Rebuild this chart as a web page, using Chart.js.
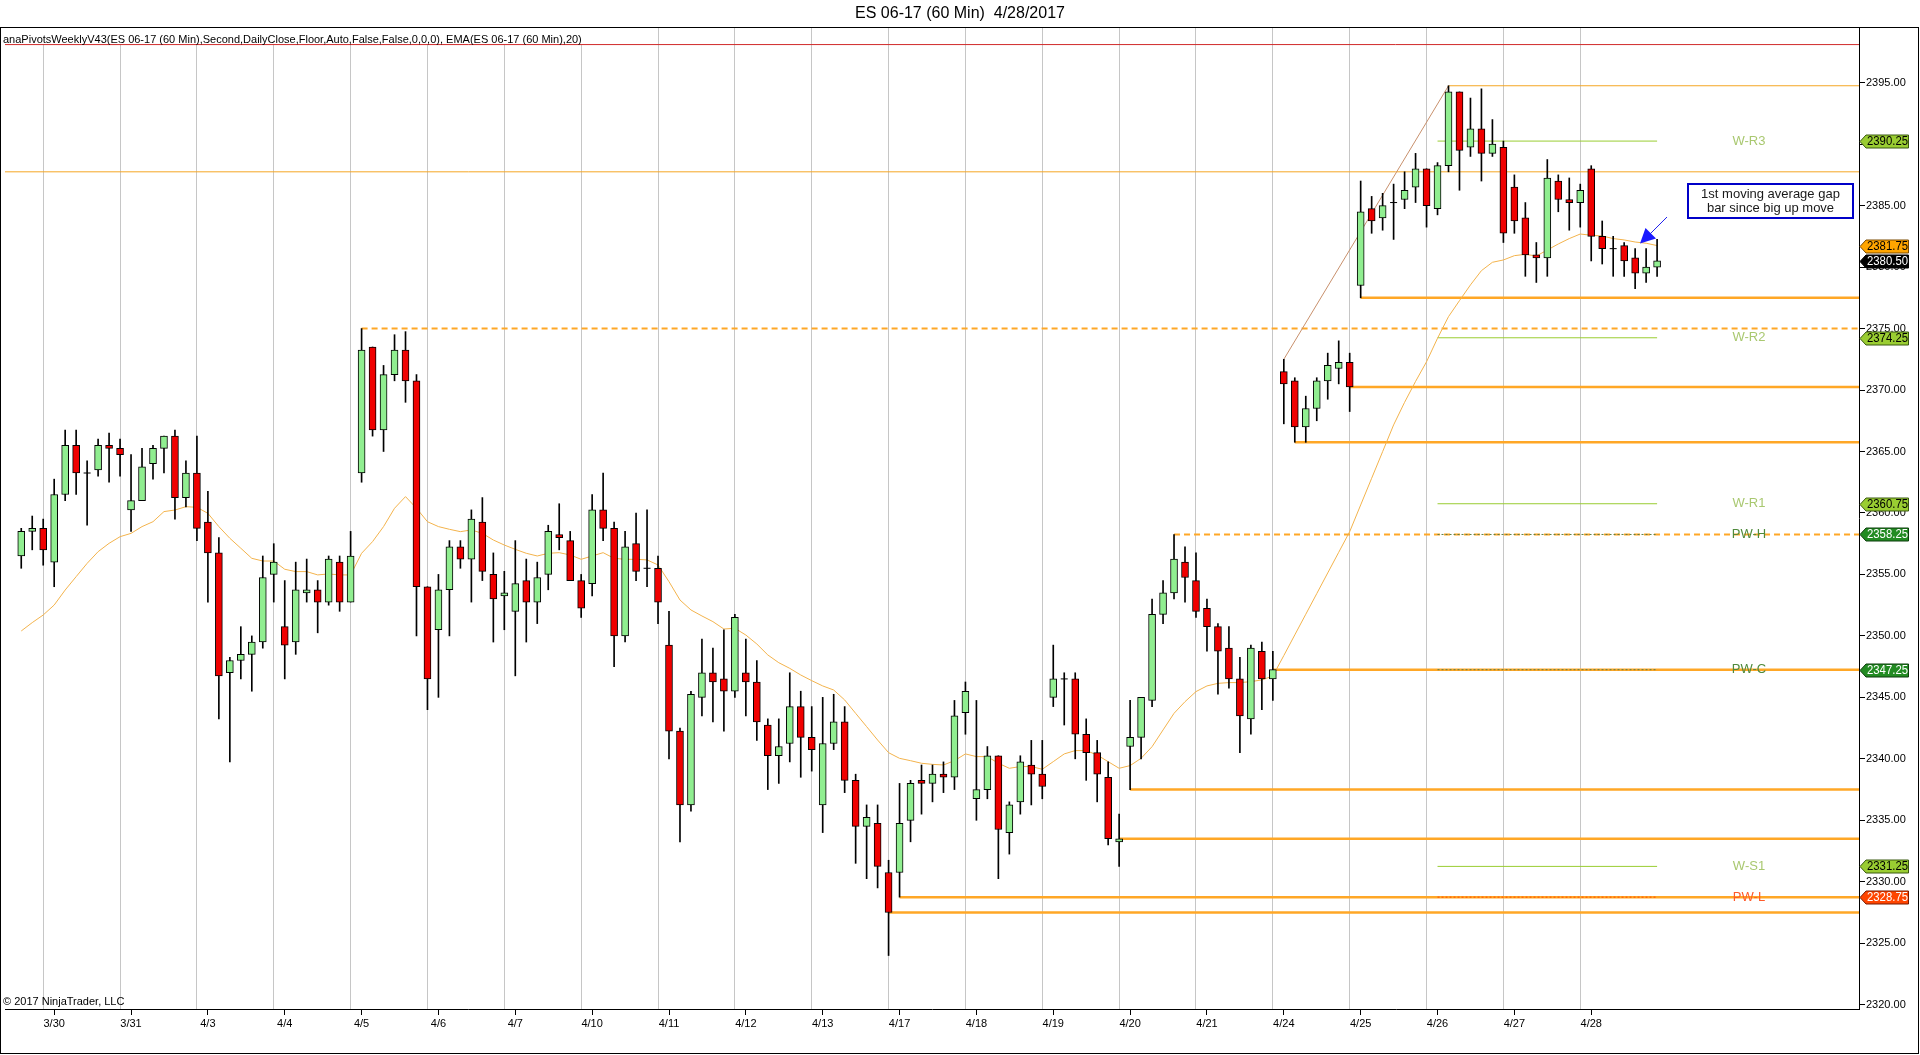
<!DOCTYPE html>
<html>
<head>
<meta charset="utf-8">
<title>ES 06-17 (60 Min) 4/28/2017</title>
<script src="https://cdn.jsdelivr.net/npm/chart.js@4.4.1/dist/chart.umd.min.js"></script>
<style>
  html, body { margin: 0; padding: 0; background: #fff; }
  #wrap { position: relative; width: 1920px; height: 1055px; overflow: hidden; }
  #chart { position: absolute; left: 0; top: 0; }
  #title { position: absolute; left: 0; top: 4px; width: 1920px; text-align: center;
           font: 16px 'Liberation Sans', Arial, sans-serif; color: #000; z-index: 2; }
</style>
</head>
<body>
<div id="wrap">
  <canvas id="chart" width="1920" height="1055"></canvas>
  <div id="title">ES 06-17 (60 Min)&nbsp; 4/28/2017</div>
</div>
<script>
// ES 06-17 hourly bars, 3/29 close to 4/28 midday

const dayLabels = ['3/30', '3/31', '4/3', '4/4', '4/5', '4/6', '4/7', '4/10', '4/11', '4/12', '4/13',
                   '4/17', '4/18', '4/19', '4/20', '4/21', '4/24', '4/25', '4/26', '4/27', '4/28'];
const yTickValues = [2320, 2325, 2330, 2335, 2340, 2345, 2350, 2355, 2360, 2365, 2370, 2375, 2380, 2385, 2390, 2395];

const opens = [
  2356.5, 2358.5, 2358.75, 2356.0, 2361.5, 2365.5, 2363.25, 2363.5, 2365.5, 2365.25, 2360.25, 2361.0,
  2364.0, 2365.25, 2366.25, 2361.25, 2363.25, 2359.25, 2356.75, 2347.0, 2348.0, 2348.5, 2349.5, 2355.0,
  2350.75, 2349.5, 2353.5, 2353.75, 2352.75, 2356.0, 2352.75, 2363.25, 2373.5, 2366.75, 2371.25, 2373.25,
  2370.75, 2354.0, 2350.5, 2353.75, 2357.25, 2356.25, 2359.25, 2355.0, 2353.25, 2352.0, 2354.5, 2352.75,
  2355.0, 2358.25, 2357.75, 2354.5, 2354.25, 2360.25, 2358.75, 2350.0, 2357.5, 2355.5, 2355.5, 2349.25,
  2342.25, 2336.25, 2345.0, 2347.0, 2346.5, 2345.5, 2347.0, 2346.25, 2342.75, 2340.25, 2341.25, 2344.25,
  2341.75, 2336.25, 2341.25, 2343.0, 2338.25, 2334.5, 2334.75, 2330.75, 2330.75, 2335.0, 2338.25, 2338.0,
  2338.75, 2338.5, 2343.75, 2336.75, 2337.5, 2340.25, 2334.0, 2336.5, 2339.5, 2338.75, 2345.0, 2346.5,
  2346.5, 2342.0, 2340.5, 2338.5, 2333.25, 2341.0, 2341.75, 2344.75, 2351.75, 2353.5, 2356.0, 2354.5,
  2352.25, 2350.75, 2349.0, 2346.5, 2343.25, 2348.75, 2346.5, 2371.5, 2370.75, 2367.0, 2368.5, 2370.75,
  2371.75, 2372.25, 2378.5, 2384.75, 2384.0, 2385.25, 2385.5, 2386.5, 2388.0, 2384.75, 2388.25, 2394.25,
  2389.75, 2391.25, 2389.25, 2389.75, 2386.5, 2384.0, 2381.0, 2380.75, 2387.0, 2385.5, 2385.25, 2388.0,
  2382.5, 2381.5, 2381.75, 2380.75, 2379.5, 2380.0
];
const highs = [
  2358.75, 2359.75, 2359.5, 2362.75, 2366.75, 2366.75, 2364.25, 2366.0, 2366.5, 2366.0, 2364.75, 2365.25,
  2365.5, 2366.25, 2366.75, 2364.25, 2366.25, 2361.75, 2358.0, 2348.25, 2350.75, 2350.0, 2356.5, 2357.5,
  2354.5, 2356.0, 2356.25, 2354.5, 2356.5, 2356.5, 2358.5, 2375.0, 2373.5, 2372.0, 2374.5, 2374.75,
  2371.25, 2354.0, 2355.0, 2357.75, 2357.75, 2360.25, 2361.25, 2356.75, 2355.25, 2357.75, 2356.25, 2356.0,
  2359.0, 2360.75, 2358.5, 2355.0, 2361.5, 2363.25, 2359.25, 2358.5, 2360.0, 2360.25, 2356.5, 2352.0,
  2342.5, 2345.5, 2349.75, 2349.0, 2350.5, 2351.75, 2349.75, 2348.0, 2343.25, 2343.25, 2347.0, 2345.5,
  2344.25, 2345.0, 2345.25, 2344.25, 2338.75, 2336.25, 2336.25, 2331.75, 2338.0, 2338.25, 2339.5, 2339.5,
  2339.75, 2344.75, 2346.25, 2344.75, 2341.0, 2340.25, 2336.5, 2340.25, 2341.5, 2341.5, 2349.25, 2347.0,
  2347.0, 2343.25, 2341.5, 2339.75, 2335.5, 2344.75, 2345.0, 2353.0, 2354.5, 2358.25, 2357.25, 2356.75,
  2353.0, 2351.0, 2350.75, 2348.25, 2349.25, 2349.5, 2348.75, 2372.5, 2371.0, 2369.5, 2371.0, 2373.0,
  2374.0, 2373.0, 2387.0, 2385.75, 2386.0, 2386.75, 2387.75, 2389.25, 2388.0, 2388.5, 2394.75, 2394.25,
  2393.75, 2394.5, 2392.0, 2390.25, 2387.5, 2385.25, 2382.0, 2388.75, 2387.5, 2387.25, 2386.75, 2388.25,
  2383.75, 2382.5, 2382.0, 2381.5, 2381.5, 2382.25
];
const lows = [
  2355.5, 2357.0, 2355.75, 2354.0, 2361.0, 2361.5, 2359.0, 2363.0, 2362.5, 2363.0, 2358.5, 2361.0,
  2362.75, 2363.25, 2359.5, 2360.5, 2357.75, 2352.75, 2343.25, 2339.75, 2346.5, 2345.5, 2349.0, 2352.75,
  2346.5, 2348.5, 2352.75, 2350.25, 2352.5, 2352.0, 2352.75, 2362.5, 2366.25, 2365.0, 2370.75, 2369.0,
  2350.0, 2344.0, 2345.0, 2350.0, 2355.5, 2352.75, 2354.5, 2349.5, 2350.5, 2346.75, 2349.5, 2351.0,
  2353.75, 2357.0, 2354.5, 2351.5, 2353.25, 2357.75, 2347.5, 2349.5, 2354.5, 2354.0, 2351.0, 2340.0,
  2333.25, 2335.75, 2343.5, 2343.0, 2342.25, 2345.0, 2343.5, 2341.5, 2337.5, 2338.0, 2339.75, 2338.5,
  2339.0, 2334.0, 2340.75, 2337.25, 2331.5, 2330.25, 2329.5, 2324.0, 2328.75, 2333.25, 2335.5, 2336.5,
  2337.25, 2337.5, 2342.0, 2335.0, 2336.75, 2330.25, 2332.25, 2335.5, 2336.25, 2336.75, 2344.25, 2342.75,
  2340.0, 2338.25, 2336.5, 2333.0, 2331.25, 2337.5, 2340.0, 2344.25, 2351.0, 2353.0, 2352.75, 2351.5,
  2348.75, 2345.25, 2345.75, 2340.5, 2342.0, 2344.0, 2344.75, 2367.25, 2365.75, 2365.75, 2367.5, 2369.25,
  2370.5, 2368.25, 2377.5, 2382.75, 2383.0, 2382.25, 2384.75, 2385.25, 2383.25, 2384.25, 2387.75, 2386.25,
  2389.0, 2387.0, 2389.0, 2382.0, 2382.75, 2379.25, 2378.75, 2379.25, 2384.5, 2383.0, 2383.25, 2380.5,
  2380.25, 2379.25, 2379.25, 2378.25, 2378.75, 2379.25
];
const closes = [
  2358.5, 2358.75, 2357.0, 2361.5, 2365.5, 2363.25, 2363.25, 2365.5, 2365.25, 2364.75, 2361.0, 2363.75,
  2365.25, 2366.25, 2361.25, 2363.25, 2358.75, 2356.75, 2346.75, 2348.0, 2348.5, 2349.5, 2354.75, 2356.0,
  2349.25, 2353.75, 2353.75, 2352.75, 2356.25, 2352.75, 2356.5, 2373.25, 2366.75, 2371.25, 2373.25, 2370.75,
  2354.0, 2346.5, 2353.75, 2357.25, 2356.25, 2359.5, 2355.25, 2353.0, 2353.5, 2354.25, 2352.75, 2354.75,
  2358.5, 2358.0, 2354.5, 2352.25, 2360.25, 2358.75, 2350.0, 2357.25, 2355.25, 2355.5, 2352.75, 2342.25,
  2336.25, 2345.25, 2347.0, 2346.25, 2345.5, 2351.5, 2346.25, 2343.0, 2340.25, 2341.0, 2344.25, 2341.75,
  2340.75, 2341.25, 2343.0, 2338.25, 2334.5, 2335.25, 2331.25, 2327.5, 2334.75, 2338.0, 2338.0, 2338.75,
  2338.5, 2343.5, 2345.5, 2337.5, 2340.25, 2334.25, 2336.25, 2339.75, 2338.75, 2337.75, 2346.5, 2346.5,
  2342.0, 2340.5, 2338.75, 2333.5, 2333.5, 2341.75, 2345.0, 2351.75, 2353.5, 2356.25, 2354.75, 2352.0,
  2350.75, 2348.75, 2346.5, 2343.5, 2349.0, 2346.5, 2347.25, 2370.5, 2367.0, 2368.5, 2370.75, 2372.0,
  2372.25, 2370.25, 2384.5, 2383.75, 2385.0, 2385.25, 2386.25, 2388.0, 2385.0, 2388.25, 2394.25, 2389.5,
  2391.25, 2389.25, 2390.0, 2382.75, 2383.75, 2381.0, 2380.75, 2387.25, 2385.5, 2385.25, 2386.25, 2382.5,
  2381.5, 2381.5, 2380.5, 2379.5, 2380.0, 2380.5
];
const ema20 = [
  2350.4, 2351.08, 2351.7, 2352.51, 2353.73, 2354.82, 2355.9, 2356.85, 2357.53, 2358.07, 2358.34, 2358.89,
  2359.29, 2360.11, 2360.24, 2360.51, 2360.46, 2359.97, 2358.89, 2357.94, 2357.13, 2356.31, 2356.09, 2356.09,
  2355.42, 2355.23, 2355.23, 2354.96, 2355.04, 2354.96, 2354.96, 2356.72, 2357.67, 2358.89, 2360.38, 2361.33,
  2360.38, 2359.29, 2358.89, 2358.67, 2358.48, 2358.62, 2358.34, 2357.8, 2357.39, 2357.04, 2356.72, 2356.5,
  2356.72, 2356.77, 2356.58, 2356.23, 2356.5, 2356.77, 2356.31, 2356.23, 2356.23, 2356.18, 2355.77, 2354.41,
  2352.92, 2352.11, 2351.62, 2351.16, 2350.56, 2350.62, 2350.07, 2349.34, 2348.45, 2347.82, 2347.36, 2346.82,
  2346.36, 2345.93, 2345.6, 2344.79, 2343.7, 2342.62, 2341.53, 2340.5, 2340.04, 2339.85, 2339.64, 2339.55,
  2339.5, 2339.85, 2340.4, 2340.18, 2340.18, 2339.64, 2339.23, 2339.37, 2339.37, 2339.15, 2339.77, 2340.4,
  2340.67, 2340.67, 2340.31, 2339.77, 2339.23, 2339.45, 2340.04, 2340.99, 2342.35, 2343.7, 2344.65, 2345.47,
  2345.93, 2346.14, 2346.2, 2346.2, 2346.28, 2346.42, 2346.74, 2348.4, 2350.08, 2351.76, 2353.44, 2355.12,
  2356.8, 2358.48, 2360.65, 2362.82, 2364.99, 2367.16, 2369.0, 2370.7, 2372.3, 2374.21, 2375.97, 2377.27,
  2378.55, 2379.71, 2380.39, 2380.58, 2380.93, 2381.04, 2380.9, 2381.39, 2381.88, 2382.32, 2382.69, 2382.59,
  2382.53, 2382.32, 2382.21, 2382.04, 2381.94, 2381.75
];

// horizontal rays drawn on the chart (price, first bar; null = whole width)
const levelPrices = [2398.1, 2387.75, 2394.75, 2377.5, 2375.0, 2370.25, 2365.75, 2358.25, 2347.25, 2337.5, 2333.5, 2328.75, 2327.5];
const levelStartBars = [null, null, 130, 122, 31, 121, 116, 105, 114, 101, 100, 80, 79];
const levelKinds = ['limit', 'thin', 'thin', 'thick', 'dashed', 'thick', 'thick', 'dashed', 'thick', 'thick', 'thick', 'thick', 'thick'];

// weekly pivots
const pivotNames = ['W-R3', 'W-R2', 'W-R1', 'PW-H', 'PW-C', 'W-S1', 'PW-L'];
const pivotPrices = [2390.25, 2374.25, 2360.75, 2358.25, 2347.25, 2331.25, 2328.75];
const pivotBars = [129, 149];

// trend line high to high
const trendBars = [115, 130];
const trendPrices = [2372.5, 2394.75];

// price markers on the right axis
const tagPrices = [2390.25, 2381.75, 2380.5, 2374.25, 2360.75, 2358.25, 2347.25, 2331.25, 2328.75];
const tagKinds = ['pivot', 'ema', 'last', 'pivot', 'pivot', 'prev', 'prev', 'pivot', 'low'];

const FONT = "'Liberation Sans', Arial, sans-serif";
const barsPerDay = 7;
const firstDayLine = 2;          // bar sitting on the 3/29 | 3/30 separator
const xMin = -1.48, xMax = 167.39;
const yMin = 2319.65, yMax = 2399.53;

const upColor = '#90ee90';
const downColor = '#f00000';
const levelStyles = {
  limit:  { color: '#d02a2a', width: 1,   dash: [] },
  thin:   { color: '#f5a623', width: 1,   dash: [] },
  thick:  { color: '#ffa726', width: 2.5, dash: [] },
  dashed: { color: '#ffa726', width: 2,   dash: [6, 4] }
};
const pivotLineStyles = {
  'W-R3': { color: '#9acd32', dash: [] },
  'W-R2': { color: '#9acd32', dash: [] },
  'W-R1': { color: '#9acd32', dash: [] },
  'PW-H': { color: '#5d7d45', dash: [2, 2] },
  'PW-C': { color: '#5d7d45', dash: [2, 2] },
  'W-S1': { color: '#9acd32', dash: [] },
  'PW-L': { color: '#ff4500', dash: [2, 2] }
};
const pivotTextColors = {
  'W-R3': '#a9c870', 'W-R2': '#a9c870', 'W-R1': '#a9c870',
  'PW-H': '#4f8a3c', 'PW-C': '#4f8a3c', 'W-S1': '#a9c870', 'PW-L': '#ff5a2a'
};
const tagStyles = {
  pivot: { bg: '#9acd32', fg: '#000', edge: '#3a5a10' },
  ema:   { bg: '#ffa500', fg: '#000', edge: '#7a4a00' },
  last:  { bg: '#000000', fg: '#fff', edge: '#000' },
  prev:  { bg: '#228b22', fg: '#fff', edge: '#0b3d0b' },
  low:   { bg: '#ff4500', fg: '#fff', edge: '#7a1a00' }
};

Chart.defaults.font.family = FONT;

// build datasets
const barIdx = opens.map((_, i) => i);
const wickData = barIdx.map(i => ({ x: i, y: [lows[i], highs[i]] }));
const bodyIdx = barIdx.filter(i => opens[i] !== closes[i]);
const bodyData = bodyIdx.map(i => ({ x: i, y: [Math.min(opens[i], closes[i]), Math.max(opens[i], closes[i])] }));
const bodyColors = bodyIdx.map(i => closes[i] > opens[i] ? upColor : downColor);
const dojiData = barIdx.filter(i => opens[i] === closes[i]).map(i => ({ x: i, y: closes[i] }));
const emaData = barIdx.map(i => ({ x: i, y: ema20[i] }));

const datasets = [];

levelPrices.forEach((p, j) => {
  const st = levelStyles[levelKinds[j]];
  const start = levelStartBars[j] === null ? xMin : levelStartBars[j];
  datasets.push({
    type: 'line', data: [{ x: start, y: p }, { x: xMax, y: p }],
    borderColor: st.color, borderWidth: st.width, borderDash: st.dash,
    pointRadius: 0, order: 10, xAxisID: 'x', yAxisID: 'y'
  });
});

pivotNames.forEach((n, j) => {
  const st = pivotLineStyles[n];
  datasets.push({
    type: 'line', data: [{ x: pivotBars[0], y: pivotPrices[j] }, { x: pivotBars[1], y: pivotPrices[j] }],
    borderColor: st.color, borderWidth: 1, borderDash: st.dash,
    pointRadius: 0, order: 9, xAxisID: 'x', yAxisID: 'y'
  });
});

datasets.push({
  type: 'line', data: trendBars.map((b, j) => ({ x: b, y: trendPrices[j] })),
  borderColor: '#c8906c', borderWidth: 1, pointRadius: 0, order: 8, xAxisID: 'x', yAxisID: 'y'
});

datasets.push({
  type: 'line', data: emaData, borderColor: '#f3b34c', borderWidth: 1,
  pointRadius: 0, tension: 0, order: 7, xAxisID: 'x', yAxisID: 'y'
});

datasets.push({
  type: 'bar', data: wickData, backgroundColor: '#000', borderWidth: 0,
  barThickness: 1, grouped: false, order: 3, xAxisID: 'x', yAxisID: 'y'
});

datasets.push({
  type: 'bar', data: bodyData, backgroundColor: bodyColors, borderColor: '#000',
  borderWidth: 1, borderSkipped: false, barThickness: 7, grouped: false, order: 2,
  xAxisID: 'x', yAxisID: 'y'
});

datasets.push({
  type: 'line', data: dojiData, showLine: false, pointStyle: 'line', pointRadius: 3.5,
  borderColor: '#000', borderWidth: 1, order: 1, xAxisID: 'x', yAxisID: 'y'
});

const indicatorText = 'anaPivotsWeeklyV43(ES 06-17 (60 Min),Second,DailyClose,Floor,Auto,False,False,0,0,0), EMA(ES 06-17 (60 Min),20)';

// frame, texts, pivot labels, axis markers, note
const overlay = {
  id: 'overlay',
  afterDraw(chart) {
    const ctx = chart.ctx;
    const ys = chart.scales.y;
    ctx.save();

    // label strip of the indicator hides the day lines underneath it
    ctx.fillStyle = '#fff';
    ctx.fillRect(1, 28, 584, 16);
    ctx.fillStyle = '#000';
    ctx.textBaseline = 'middle';
    ctx.textAlign = 'left';
    ctx.font = '11px ' + FONT;
    ctx.fillText(indicatorText, 3, 39.5, 580);
    ctx.fillText('\u00a9 2017 NinjaTrader, LLC', 3, 1002);

    ctx.strokeStyle = '#000';
    ctx.lineWidth = 1;
    ctx.strokeRect(0.5, 27.5, 1918, 1026);

    // pivot names
    ctx.textAlign = 'center';
    ctx.font = '13px ' + FONT;
    pivotNames.forEach((n, j) => {
      ctx.fillStyle = pivotTextColors[n];
      ctx.fillText(n, 1749, ys.getPixelForValue(pivotPrices[j]));
    });

    // price markers
    ctx.font = '12px ' + FONT;
    tagPrices.forEach((p, j) => {
      const st = tagStyles[tagKinds[j]];
      const y = Math.round(ys.getPixelForValue(p)) + 0.5;
      ctx.beginPath();
      ctx.moveTo(1860, y);
      ctx.lineTo(1866, y - 6.5);
      ctx.lineTo(1908.5, y - 6.5);
      ctx.lineTo(1908.5, y + 6.5);
      ctx.lineTo(1866, y + 6.5);
      ctx.closePath();
      ctx.fillStyle = st.bg;
      ctx.fill();
      ctx.strokeStyle = st.edge;
      ctx.stroke();
      ctx.fillStyle = st.fg;
      ctx.fillText(p.toFixed(2), 1887.5, y + 0.5, 41);
    });

    // note box with arrow
    ctx.fillStyle = '#fff';
    ctx.fillRect(1688, 184, 165, 34);
    ctx.strokeStyle = '#0000c8';
    ctx.lineWidth = 2;
    ctx.strokeRect(1688, 184, 165, 34);
    ctx.fillStyle = '#1a1a1a';
    ctx.font = '13px ' + FONT;
    ctx.fillText('1st moving average gap', 1770.5, 194.5);
    ctx.fillText('bar since big up move', 1770.5, 208.5);

    ctx.strokeStyle = '#2222ee';
    ctx.lineWidth = 1;
    ctx.beginPath();
    ctx.moveTo(1667, 217);
    ctx.lineTo(1649, 235);
    ctx.stroke();
    ctx.fillStyle = '#1a1aff';
    ctx.beginPath();
    ctx.moveTo(1640, 243.5);
    ctx.lineTo(1645.5, 228);
    ctx.lineTo(1656, 238.5);
    ctx.closePath();
    ctx.fill();

    ctx.restore();
  }
};

new Chart(document.getElementById('chart'), {
  type: 'bar',
  data: { datasets: datasets },
  options: {
    responsive: false,
    animation: false,
    devicePixelRatio: 1,
    layout: { padding: { left: 1, right: 0, top: 27, bottom: 0 } },
    plugins: { legend: { display: false }, tooltip: { enabled: false }, title: { display: false } },
    scales: {
      x: {
        type: 'linear', position: 'bottom', min: xMin, max: xMax, offset: false,
        afterBuildTicks: s => { s.ticks = dayLabels.map((d, n) => ({ value: firstDayLine + 1 + n * barsPerDay })); },
        afterFit: s => { s.height = 46; },
        ticks: {
          autoSkip: false, maxRotation: 0, padding: 2, color: '#000', font: { size: 11 },
          callback: (v, idx) => dayLabels[idx]
        },
        grid: { drawOnChartArea: false, drawTicks: true, tickLength: 6, color: '#000', offset: false },
        border: { display: true, color: '#000' }
      },
      xg: {
        type: 'linear', position: 'bottom', min: xMin, max: xMax, offset: false,
        afterBuildTicks: s => { s.ticks = dayLabels.map((d, n) => ({ value: firstDayLine + n * barsPerDay })); },
        afterFit: s => { s.height = 0; },
        ticks: { display: false },
        grid: { color: '#c6c6c6', lineWidth: 1, drawTicks: false, offset: false },
        border: { display: false }
      },
      y: {
        type: 'linear', position: 'right', min: yMin, max: yMax,
        afterBuildTicks: s => { s.ticks = yTickValues.map(v => ({ value: v })); },
        afterFit: s => { s.width = 61; },
        ticks: { color: '#000', font: { size: 11 }, padding: 1, callback: v => v.toFixed(2) },
        grid: { drawOnChartArea: false, tickLength: 6, color: '#000' },
        border: { display: true, color: '#000' }
      }
    }
  },
  plugins: [overlay]
});
</script>
</body>
</html>
